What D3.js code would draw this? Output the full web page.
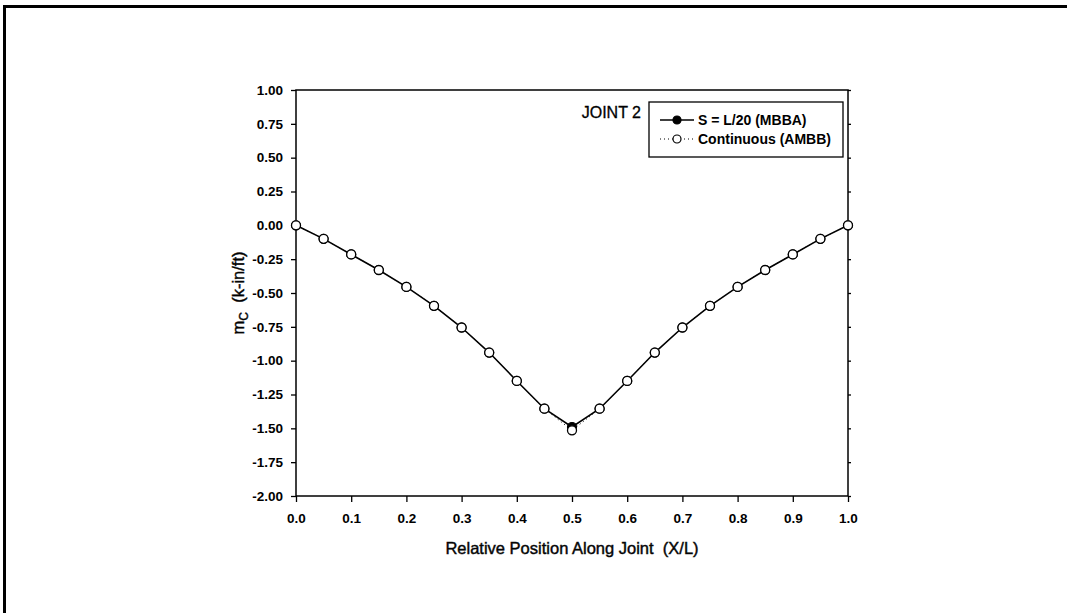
<!DOCTYPE html>
<html>
<head>
<meta charset="utf-8">
<script src="https://cdn.jsdelivr.net/npm/d3@7"></script>
<style>
  html, body { margin: 0; padding: 0; background: #fff; }
  svg { display: block; }
  text { font-family: Arial, "Liberation Sans", sans-serif; fill: #000; }
</style>
</head>
<body>
<svg id="chart" width="1067" height="613"></svg>
<script>
// ---- data ----
const positions = [0.00, 0.05, 0.10, 0.15, 0.20, 0.25, 0.30, 0.35, 0.40, 0.45, 0.50,
                   0.55, 0.60, 0.65, 0.70, 0.75, 0.80, 0.85, 0.90, 0.95, 1.00];
const mbbaValues = [0.00, -0.10, -0.215, -0.33, -0.455, -0.595, -0.755, -0.94, -1.15, -1.355, -1.49,
                    -1.355, -1.15, -0.94, -0.755, -0.595, -0.455, -0.33, -0.215, -0.10, 0.00];
const ambbValues = [0.00, -0.10, -0.215, -0.33, -0.455, -0.595, -0.755, -0.94, -1.15, -1.355, -1.515,
                    -1.355, -1.15, -0.94, -0.755, -0.595, -0.455, -0.33, -0.215, -0.10, 0.00];
const xTicks = [0.0, 0.1, 0.2, 0.3, 0.4, 0.5, 0.6, 0.7, 0.8, 0.9, 1.0];
const yTicks = [1.00, 0.75, 0.50, 0.25, 0.00, -0.25, -0.50, -0.75, -1.00, -1.25, -1.50, -1.75, -2.00];
const seriesNames = ["S = L/20 (MBBA)", "Continuous (AMBB)"];
const chartTitle = "JOINT 2";
const xTitle = "Relative Position Along Joint\u00a0\u00a0(X/L)";

// ---- layout ----
const svg = d3.select("#chart");
const pL = 296, pR = 848, pT = 90, pB = 496;
const x = d3.scaleLinear().domain([0, 1]).range([pL, pR]);
const y = d3.scaleLinear().domain([-2, 1]).range([pB, pT]);
const fmtY = v => d3.format(".2f")(v).replace("\u2212", "-");
const fmtX = v => d3.format(".1f")(v).replace("\u2212", "-");

// outer border (partially visible in reference)
svg.append("line").attr("x1", 3).attr("x2", 1067).attr("y1", 6.5).attr("y2", 6.5)
  .attr("stroke", "#000").attr("stroke-width", 3);
svg.append("line").attr("x1", 4.5).attr("x2", 4.5).attr("y1", 5).attr("y2", 613)
  .attr("stroke", "#000").attr("stroke-width", 3);

// axes
const yAxis = d3.axisLeft(y).tickValues(yTicks).tickFormat(fmtY).tickSize(5).tickPadding(8);
const xAxis = d3.axisBottom(x).tickValues(xTicks).tickFormat(fmtX).tickSize(6).tickPadding(11);
const yRight = d3.axisRight(y).tickValues(yTicks).tickFormat("").tickSize(3);

const gy = svg.append("g").attr("transform", `translate(${pL},0)`).call(yAxis);
const gx = svg.append("g").attr("transform", `translate(0,${pB})`).call(xAxis);
const gr = svg.append("g").attr("transform", `translate(${pR},0)`).call(yRight);
[gy, gx, gr].forEach(g => {
  g.select(".domain").remove();
  g.selectAll("line").attr("stroke", "#000").attr("stroke-width", 1.3);
  g.selectAll("text").style("font-size", "13.5px").style("font-weight", "bold")
    .style("font-family", "Arial, 'Liberation Sans', sans-serif").attr("fill", "#111");
});

// frame
svg.append("rect").attr("x", pL).attr("y", pT).attr("width", pR - pL).attr("height", pB - pT)
  .attr("fill", "none").attr("stroke", "#000").attr("stroke-width", 1.5);

// lines
const line1 = d3.line().x((d, i) => x(positions[i])).y(d => y(d));
svg.append("path").datum(ambbValues).attr("d", line1).attr("fill", "none")
  .attr("stroke", "#000").attr("stroke-width", 1).attr("stroke-dasharray", "1,3");
svg.append("path").datum(mbbaValues).attr("d", line1).attr("fill", "none")
  .attr("stroke", "#000").attr("stroke-width", 1.6);

// markers
svg.append("g").selectAll("circle").data(mbbaValues).join("circle")
  .attr("cx", (d, i) => x(positions[i])).attr("cy", d => y(d)).attr("r", 4.5)
  .attr("fill", "#000").attr("stroke", "#000").attr("stroke-width", 1.2);
svg.append("g").selectAll("circle").data(ambbValues).join("circle")
  .attr("cx", (d, i) => x(positions[i])).attr("cy", d => y(d)).attr("r", 4.5)
  .attr("fill", "#fff").attr("stroke", "#000").attr("stroke-width", 1.3);

// titles
svg.append("text").attr("x", 641).attr("y", 118).attr("text-anchor", "end")
  .style("font-size", "16px").attr("stroke", "#000").attr("stroke-width", 0.3).text(chartTitle);
svg.append("text").attr("x", (pL + pR) / 2).attr("y", 554).attr("text-anchor", "middle")
  .style("font-size", "16.5px").attr("fill", "#111").attr("stroke", "#111").attr("stroke-width", 0.45)
  .text(xTitle);

const yt = svg.append("text").attr("transform", `translate(244,${(pT + pB) / 2}) rotate(-90)`)
  .attr("text-anchor", "middle").style("font-size", "16.5px").attr("fill", "#111")
  .attr("stroke", "#111").attr("stroke-width", 0.45);
yt.append("tspan").text("m");
yt.append("tspan").attr("dy", 4).style("font-size", "12px").text("C");
yt.append("tspan").attr("dy", -4).text("\u00a0\u00a0(k-in/ft)");

// legend
const lg = svg.append("g");
lg.append("rect").attr("x", 649).attr("y", 102).attr("width", 194).attr("height", 55)
  .attr("fill", "#fff").attr("stroke", "#000").attr("stroke-width", 1.3);
const rows = [
  { name: seriesNames[0], yy: 120, fill: "#000", dash: null, w: 1.6 },
  { name: seriesNames[1], yy: 139, fill: "#fff", dash: "1,3", w: 1 }
];
rows.forEach(r => {
  lg.append("line").attr("x1", 660).attr("x2", 694).attr("y1", r.yy).attr("y2", r.yy)
    .attr("stroke", "#000").attr("stroke-width", r.w).attr("stroke-dasharray", r.dash);
  lg.append("circle").attr("cx", 677).attr("cy", r.yy).attr("r", 4).attr("fill", r.fill)
    .attr("stroke", "#000").attr("stroke-width", 1.2);
  lg.append("text").attr("x", 698).attr("y", r.yy + 5).style("font-size", "14px")
    .style("font-weight", "bold").attr("fill", "#111").text(r.name);
});
</script>
</body>
</html>
